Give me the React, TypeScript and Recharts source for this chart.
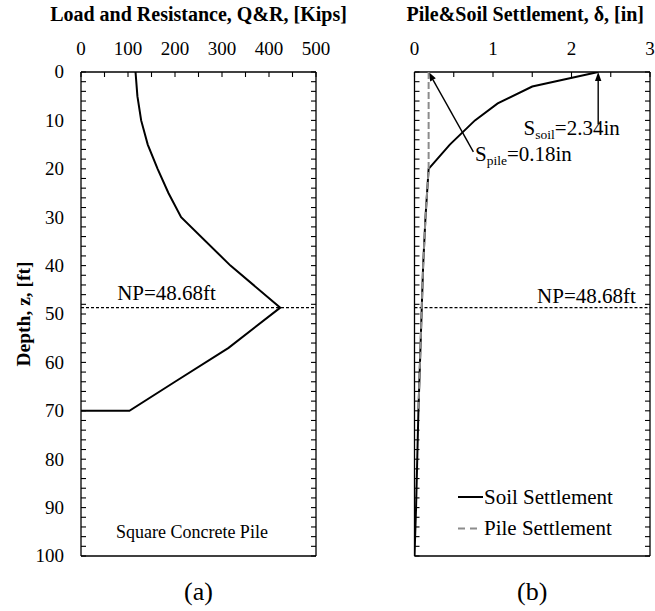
import React from 'react'
import { ScatterChart, Scatter, XAxis, YAxis, ReferenceLine, ReferenceDot, Legend } from 'recharts'

const FONT = '"Liberation Serif", "Times New Roman", serif'

// (a) load and resistance along the pile, read off the figure
const qrDepth = [0, 5, 10, 15, 20, 25, 30, 40, 48.68, 57, 64, 70, 70]
const qrLoad = [116, 120, 128, 142, 163, 186, 213, 318, 424, 314, 200, 103, 0]

// (b) settlement profiles
const soilDepth = [0, 3, 6.5, 10, 15, 20, 30, 40, 50, 60, 70, 80, 90, 100]
const soilSettle = [2.34, 1.5, 1.06, 0.77, 0.45, 0.18, 0.14, 0.11, 0.09, 0.07, 0.05, 0.035, 0.02, 0]
const pileDepth = [0, 10, 20, 30, 40, 50, 60, 70]
const pileSettle = [0.18, 0.18, 0.18, 0.14, 0.11, 0.09, 0.07, 0.05]

const neutralPlane = 48.68
const soilTop = 2.34
const pileTop = 0.18

// ticks: every value gets a mark, the listed labels get text
const loadTicks = [0, 50, 100, 150, 200, 250, 300, 350, 400, 450, 500]
const loadLabels = [0, 100, 200, 300, 400, 500]
const settleTicks = [0, 0.5, 1, 1.5, 2, 2.5, 3]
const settleLabels = [0, 1, 2, 3]
const depthTicks = [
  0, 2, 4, 6, 8, 10, 12, 14, 16, 18, 20, 22, 24, 26, 28, 30, 32, 34, 36, 38, 40, 42, 44, 46, 48, 50,
  52, 54, 56, 58, 60, 62, 64, 66, 68, 70, 72, 74, 76, 78, 80, 82, 84, 86, 88, 90, 92, 94, 96, 98, 100,
]
const depthLabels = [0, 10, 20, 30, 40, 50, 60, 70, 80, 90, 100]

const qrData = qrDepth.map((d, i) => ({ depth: d, q: qrLoad[i] }))
const soilData = soilDepth.map((d, i) => ({ depth: d, s: soilSettle[i] }))
const pileData = pileDepth.map((d, i) => ({ depth: d, s: pileSettle[i] }))

const legendOrder = ['Soil Settlement', 'Pile Settlement']
const legendStyle: Record<string, { stroke: string; dash?: string }> = {
  'Soil Settlement': { stroke: '#000' },
  'Pile Settlement': { stroke: '#8c8c8c', dash: '7 5' },
}

const axisLine = { stroke: '#000', strokeWidth: 1.3 }
const TICK_LEN = 5
const TICK_FS = 19
const NOTE_FS = 21

// inward tick marks, labels outside the box
const edgeTick = (side: string, labels: number[]) => (p: any) => {
  const { x, y, payload } = p
  const v = payload.value
  const show = labels.includes(v)
  let mark = null
  let label = null
  if (side === 'top') {
    mark = <line x1={x} y1={y} x2={x} y2={y + TICK_LEN} />
    if (show) label = <text x={x} y={y - 17.5} textAnchor="middle">{v}</text>
  } else if (side === 'bottom') {
    mark = <line x1={x} y1={y} x2={x} y2={y - TICK_LEN} />
  } else if (side === 'left') {
    mark = <line x1={x} y1={y} x2={x + TICK_LEN} y2={y} />
    if (show) label = <text x={x - 17} y={y} dy="0.34em" textAnchor="end">{v}</text>
  } else {
    mark = <line x1={x} y1={y} x2={x - TICK_LEN} y2={y} />
  }
  return (
    <g>
      <g stroke="#000" strokeWidth={1.1}>{mark}</g>
      {label && <g fill="#000" fontFamily={FONT} fontSize={TICK_FS}>{label}</g>}
    </g>
  )
}

const topTitle = (text: string, dx: number) => (p: any) => {
  const vb = p.viewBox || {}
  const cx = (vb.x ?? 0) + (vb.width ?? 0) / 2 + dx
  return (
    <text x={cx} y={21} textAnchor="middle" fontFamily={FONT} fontWeight="bold" fontSize={20} fill="#000">
      {text}
    </text>
  )
}

const bottomTitle = (text: string) => (p: any) => {
  const vb = p.viewBox || {}
  const cx = (vb.x ?? 0) + (vb.width ?? 0) / 2
  return (
    <text x={cx} y={600} textAnchor="middle" fontFamily={FONT} fontSize={26} fill="#000">
      {text}
    </text>
  )
}

const depthTitle = (p: any) => {
  const vb = p.viewBox || {}
  const cy = (vb.y ?? 0) + (vb.height ?? 0) / 2
  return (
    <text x={30} y={cy} transform={`rotate(-90, 30, ${cy})`} textAnchor="middle" fontFamily={FONT}
      fontWeight="bold" fontSize={19.5} fill="#000">
      Depth, z, [ft]
    </text>
  )
}

const textMark = (content: React.ReactNode, anchor: 'start' | 'middle' | 'end', size = NOTE_FS) => (p: any) => (
  <text x={p.cx} y={p.cy} textAnchor={anchor} fontFamily={FONT} fontSize={size} fill="#000">
    {content}
  </text>
)

const arrowShape = (p: any) => {
  const { x1, y1, x2, y2 } = p
  const ang = Math.atan2(y2 - y1, x2 - x1)
  const L = 9
  const W = 3.2
  const bx = x2 - L * Math.cos(ang)
  const by = y2 - L * Math.sin(ang)
  const px = -Math.sin(ang) * W
  const py = Math.cos(ang) * W
  return (
    <g>
      <line x1={x1} y1={y1} x2={bx} y2={by} stroke="#000" strokeWidth={1.4} />
      <polygon points={`${x2},${y2} ${bx + px},${by + py} ${bx - px},${by - py}`} fill="#000" />
    </g>
  )
}

const noDot = () => <g />

const LoadChart = () => (
  <ScatterChart width={330} height={611} margin={{ top: 0, right: 0, bottom: 0, left: 0 }}>
    <XAxis xAxisId="top" orientation="top" type="number" dataKey="q" domain={[0, 500]} ticks={loadTicks}
      interval={0} height={72} tickSize={0} tickMargin={0} tickLine={false} axisLine={axisLine}
      tick={edgeTick('top', loadLabels)} allowDataOverflow label={topTitle('Load and Resistance, Q&R, [Kips]', 0)} />
    <XAxis xAxisId="bottom" orientation="bottom" type="number" domain={[0, 500]} ticks={loadTicks}
      interval={0} height={55} tickSize={0} tickMargin={0} tickLine={false} axisLine={axisLine}
      tick={edgeTick('bottom', [])} allowDataOverflow label={bottomTitle('(a)')} />
    <YAxis yAxisId="left" type="number" dataKey="depth" domain={[0, 100]} reversed ticks={depthTicks}
      interval={0} width={81} tickSize={0} tickMargin={0} tickLine={false} axisLine={axisLine}
      tick={edgeTick('left', depthLabels)} allowDataOverflow label={depthTitle} />
    <YAxis yAxisId="right" orientation="right" type="number" domain={[0, 100]} reversed ticks={depthTicks}
      interval={0} width={14} tickSize={0} tickMargin={0} tickLine={false} axisLine={axisLine}
      tick={edgeTick('right', [])} allowDataOverflow />
    <ReferenceLine xAxisId="top" yAxisId="left" y={neutralPlane} stroke="#000" strokeWidth={1.2} strokeDasharray="3 2" />
    <Scatter xAxisId="top" yAxisId="left" name="Q&R" data={qrData} line={{ stroke: '#000', strokeWidth: 2 }}
      lineType="joint" shape={noDot} isAnimationActive={false} />
    <ReferenceDot xAxisId="top" yAxisId="left" x={182} y={47.2} shape={textMark(`NP=${neutralPlane}ft`, 'middle')} />
    <ReferenceDot xAxisId="top" yAxisId="left" x={236} y={96.3} shape={textMark('Square Concrete Pile', 'middle', 18)} />
  </ScatterChart>
)

const legendContent = (p: any) => {
  const items = legendOrder.filter((n) => (p.payload || []).some((e: any) => e.value === n))
  return (
    <svg width={200} height={64} style={{ display: 'block' }}>
      {items.map((name, i) => {
        const st = legendStyle[name]
        const yLine = 13 + 31.5 * i
        return (
          <g key={name}>
            <line x1={0} x2={st.dash ? 19 : 25} y1={yLine} y2={yLine} stroke={st.stroke} strokeWidth={2}
              strokeDasharray={st.dash} />
            <text x={26} y={yLine + 6.5} fontFamily={FONT} fontSize={NOTE_FS} fill="#000">{name}</text>
          </g>
        )
      })}
    </svg>
  )
}

const SettlementChart = () => (
  <ScatterChart width={325} height={611} margin={{ top: 0, right: 0, bottom: 0, left: 0 }}>
    <XAxis xAxisId="top" orientation="top" type="number" dataKey="s" domain={[0, 3]} ticks={settleTicks}
      interval={0} height={72} tickSize={0} tickMargin={0} tickLine={false} axisLine={axisLine}
      tick={edgeTick('top', settleLabels)} allowDataOverflow label={topTitle('Pile&Soil Settlement, δ, [in]', -7)} />
    <XAxis xAxisId="bottom" orientation="bottom" type="number" domain={[0, 3]} ticks={settleTicks}
      interval={0} height={55} tickSize={0} tickMargin={0} tickLine={false} axisLine={axisLine}
      tick={edgeTick('bottom', [])} allowDataOverflow label={bottomTitle('(b)')} />
    <YAxis yAxisId="left" type="number" dataKey="depth" domain={[0, 100]} reversed ticks={depthTicks}
      interval={0} width={84.5} tickSize={0} tickMargin={0} tickLine={false} axisLine={axisLine}
      tick={edgeTick('left', [])} allowDataOverflow />
    <YAxis yAxisId="right" orientation="right" type="number" domain={[0, 100]} reversed ticks={depthTicks}
      interval={0} width={5} tickSize={0} tickMargin={0} tickLine={false} axisLine={axisLine}
      tick={edgeTick('right', [])} allowDataOverflow />
    <ReferenceLine xAxisId="top" yAxisId="left" y={neutralPlane} stroke="#000" strokeWidth={1.2} strokeDasharray="3 2" />
    <Scatter xAxisId="top" yAxisId="left" name="Soil Settlement" data={soilData}
      line={{ stroke: '#000', strokeWidth: 2 }} lineType="joint" shape={noDot} isAnimationActive={false} />
    <Scatter xAxisId="top" yAxisId="left" name="Pile Settlement" data={pileData}
      line={{ stroke: '#8c8c8c', strokeWidth: 2, strokeDasharray: '7 3' }} lineType="joint" shape={noDot}
      isAnimationActive={false} />
    <ReferenceLine xAxisId="top" yAxisId="left" segment={[{ x: 0.75, y: 16.5 }, { x: pileTop, y: 0 }]} shape={arrowShape} />
    <ReferenceLine xAxisId="top" yAxisId="left" segment={[{ x: soilTop, y: 10.8 }, { x: soilTop, y: 0 }]} shape={arrowShape} />
    <ReferenceDot xAxisId="top" yAxisId="left" x={1.39} y={13.1} shape={textMark(
      <>
        <tspan>S</tspan>
        <tspan fontSize={13.5} dy={4}>soil</tspan>
        <tspan dy={-4}>={soilTop}in</tspan>
      </>, 'start')} />
    <ReferenceDot xAxisId="top" yAxisId="left" x={0.77} y={18.4} shape={textMark(
      <>
        <tspan>S</tspan>
        <tspan fontSize={13.5} dy={4}>pile</tspan>
        <tspan dy={-4}>={pileTop}in</tspan>
      </>, 'start')} />
    <ReferenceDot xAxisId="top" yAxisId="left" x={2.82} y={47.7} shape={textMark(`NP=${neutralPlane}ft`, 'end')} />
    <Legend layout="vertical" align="center" verticalAlign="middle" content={legendContent}
      wrapperStyle={{ left: 128, top: 484, width: 200, height: 64 }} />
  </ScatterChart>
)

export default function App() {
  return (
    <div style={{ position: 'absolute', left: 0, top: 0, width: 655, height: 611, background: '#fff' }}>
      <style>{'.recharts-surface { overflow: visible; }'}</style>
      <div style={{ position: 'absolute', left: 0, top: 0 }}>
        <LoadChart />
      </div>
      <div style={{ position: 'absolute', left: 330, top: 0 }}>
        <SettlementChart />
      </div>
    </div>
  )
}
